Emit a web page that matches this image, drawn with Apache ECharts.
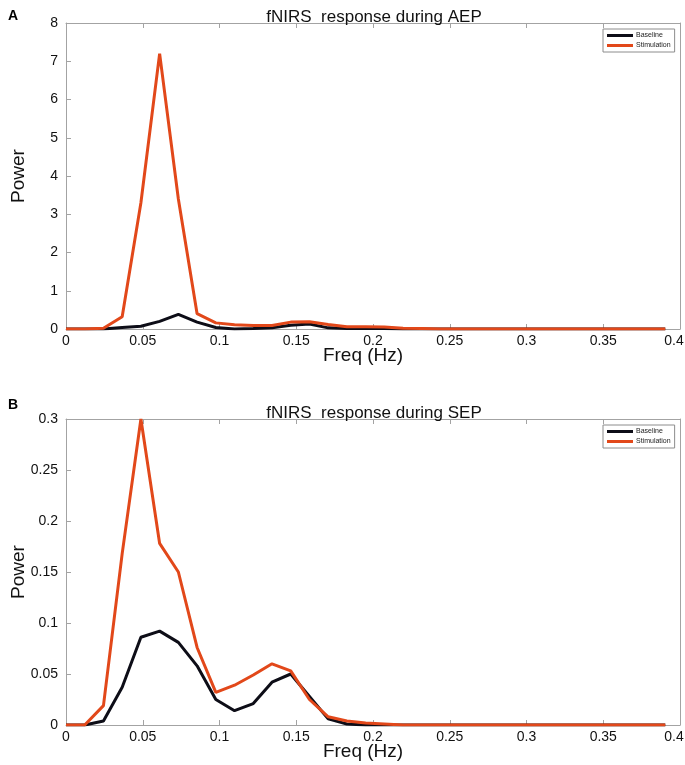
<!DOCTYPE html>
<html><head><meta charset="utf-8">
<script src="https://cdn.jsdelivr.net/npm/echarts@6/dist/echarts.min.js"></script>
<style>html,body{margin:0;padding:0;background:#fff}#c{width:685px;height:765px}</style>
</head><body><div id="c"></div>
<script>
// Frequency bins (Hz)
const freqs = [0, 0.0122, 0.0244, 0.0366, 0.0488, 0.061, 0.0732, 0.0854, 0.0976, 0.1098, 0.122, 0.1342, 0.1464, 0.1586, 0.1708, 0.183, 0.1952, 0.2074, 0.2196, 0.2318, 0.244, 0.2562, 0.2684, 0.2806, 0.2928, 0.305, 0.3172, 0.3294, 0.3416, 0.3538, 0.366, 0.3782, 0.3904];
// Panel A: AEP
const aepBaseline    = [0, 0, 0, 0.04, 0.07, 0.2, 0.38, 0.18, 0.04, 0, 0.01, 0.03, 0.1, 0.13, 0.03, 0.01, 0.01, 0.01, 0, 0, 0, 0, 0, 0, 0, 0, 0, 0, 0, 0, 0, 0, 0];
const aepStimulation = [0, 0, 0.02, 0.32, 3.3, 7.2, 3.4, 0.4, 0.16, 0.11, 0.09, 0.09, 0.18, 0.19, 0.12, 0.06, 0.06, 0.05, 0.02, 0.01, 0, 0, 0, 0, 0, 0, 0, 0, 0, 0, 0, 0, 0];
// Panel B: SEP
const sepBaseline    = [0, 0, 0.004, 0.037, 0.086, 0.092, 0.081, 0.058, 0.025, 0.014, 0.021, 0.042, 0.05, 0.028, 0.006, 0.001, 0, 0, 0, 0, 0, 0, 0, 0, 0, 0, 0, 0, 0, 0, 0, 0, 0];
const sepStimulation = [0, 0, 0.019, 0.168, 0.3, 0.178, 0.15, 0.076, 0.032, 0.039, 0.049, 0.06, 0.053, 0.025, 0.008, 0.004, 0.002, 0.001, 0, 0, 0, 0, 0, 0, 0, 0, 0, 0, 0, 0, 0, 0, 0];
const titles = ['fNIRS  response during AEP', 'fNIRS  response during SEP'];
const panelLabels = ['A', 'B'];
const seriesNames = ['Baseline', 'Stimulation'];

const FONT = 'Liberation Sans, Arial, sans-serif';
const TICKSIZE = 14;
const gray = '#a3a3a3';
const cBase = '#0d0d17', cStim = '#e2481a';
const zip = (xs, ys) => xs.map((x, i) => [x, ys[i]]);

const grids = [
  {left: 66, top: 23, width: 614, height: 306, containLabel: false, outerBoundsMode: 'none'},
  {left: 66, top: 419, width: 614, height: 306, containLabel: false, outerBoundsMode: 'none'}
];
const xAxes = [], yAxes = [];
const yCfg = [{max: 8, interval: 1}, {max: 0.3, interval: 0.05}];
grids.forEach((g, i) => {
  xAxes.push({
    gridIndex: i, type: 'value', min: 0, max: 0.4, interval: 0.05, position: 'bottom',
    name: 'Freq (Hz)', nameLocation: 'middle', nameGap: 17, nameMoveOverlap: false,
    nameTextStyle: {fontFamily: FONT, fontSize: 19, color: '#111', verticalAlign: 'top', padding: [0, 20, 0, 0]},
    axisLine: {onZero: false, lineStyle: {color: gray, width: 1}},
    axisTick: {inside: true, length: 5, lineStyle: {color: gray}},
    axisLabel: {margin: 5, fontFamily: FONT, fontSize: TICKSIZE, color: '#111',
      formatter: v => (v >= 0.4 ? '{m|' + v + '}' : String(v)),
      rich: {m: {fontFamily: FONT, fontSize: TICKSIZE, color: '#111', padding: [0, 12, 0, 0]}}},
    splitLine: {show: false}
  });
  xAxes.push({
    gridIndex: i, type: 'value', min: 0, max: 0.4, interval: 0.05, position: 'top',
    axisLine: {onZero: false, lineStyle: {color: gray, width: 1}},
    axisTick: {inside: true, length: 5, lineStyle: {color: gray}},
    axisLabel: {show: false}, splitLine: {show: false}
  });
  yAxes.push({
    gridIndex: i, type: 'value', min: 0, max: yCfg[i].max, interval: yCfg[i].interval, position: 'left',
    name: 'Power', nameLocation: 'middle', nameGap: 38, nameRotate: 90, nameMoveOverlap: false,
    nameTextStyle: {fontFamily: FONT, fontSize: 19, color: '#111'},
    axisLine: {show: true, onZero: false, lineStyle: {color: gray, width: 1}},
    axisTick: {show: true, inside: true, length: 5, lineStyle: {color: gray}},
    axisLabel: {margin: 8, fontFamily: FONT, fontSize: TICKSIZE, color: '#111'},
    splitLine: {show: false}
  });
  yAxes.push({
    gridIndex: i, type: 'value', min: 0, max: yCfg[i].max, position: 'right',
    axisLine: {show: true, onZero: false, lineStyle: {color: gray, width: 1}},
    axisTick: {show: false}, axisLabel: {show: false}, splitLine: {show: false}
  });
});

const data = [[aepBaseline, aepStimulation], [sepBaseline, sepStimulation]];
const series = [];
data.forEach((pair, i) => {
  [cBase, cStim].forEach((col, j) => {
    series.push({
      name: seriesNames[j], type: 'line', xAxisIndex: i * 2, yAxisIndex: i * 2,
      data: zip(freqs, pair[j]), symbol: 'none', clip: true, animation: false,
      lineStyle: {color: col, width: 3}, itemStyle: {color: col}, z: 2 + j
    });
  });
});

const legends = grids.map((g, i) => ({
  orient: 'vertical', left: 603, top: g.top + 6,
  data: seriesNames.map(n => ({name: n, icon: 'rect'})),
  itemWidth: 26, itemHeight: 3, itemGap: 3, padding: [3, 4, 3, 4],
  borderColor: '#8c8c8c', borderWidth: 1, backgroundColor: '#fff',
  textStyle: {fontFamily: FONT, fontSize: 7, color: '#222', padding: [0, 0, 0, -2]},
  selectedMode: false
}));

const titleOpts = [];
const labelTops = [4, 393];
grids.forEach((g, i) => {
  titleOpts.push({text: titles[i], left: 369, textAlign: 'center', top: g.top - 19,
    textStyle: {fontFamily: FONT, fontSize: 17, fontWeight: 'normal', color: '#111'}});
  titleOpts.push({text: panelLabels[i], left: 3, top: labelTops[i],
    textStyle: {fontFamily: FONT, fontSize: 14, fontWeight: 'bold', color: '#000'}});
});

const chart = echarts.init(document.getElementById('c'), null, {renderer: 'canvas'});
chart.setOption({
  animation: false, backgroundColor: '#fff',
  title: titleOpts, grid: grids, xAxis: xAxes, yAxis: yAxes,
  legend: legends, series: series
});
</script></body></html>
